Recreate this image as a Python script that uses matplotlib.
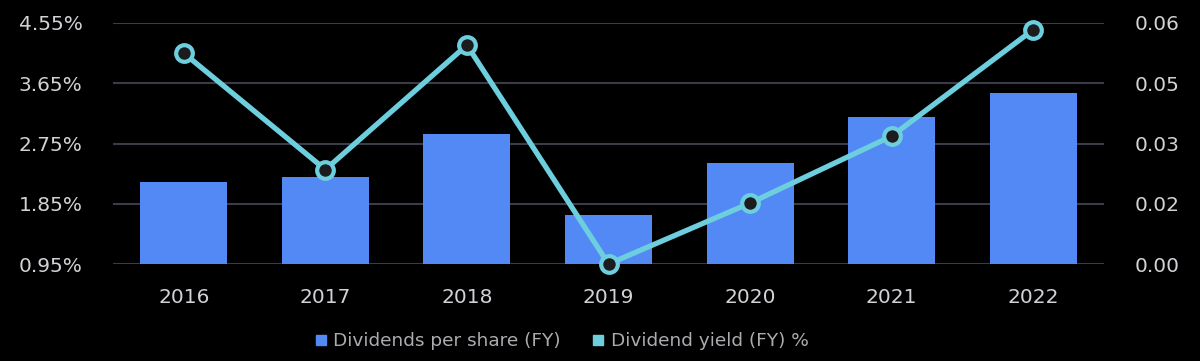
import matplotlib
matplotlib.use('Agg')
import matplotlib.pyplot as plt
from matplotlib.lines import Line2D

plt.rcParams['font.family'] = ['DejaVu Sans']

# data
years = ['2016', '2017', '2018', '2019', '2020', '2021', '2022']
dps = [0.0204, 0.0217, 0.0324, 0.0122, 0.0251, 0.0366, 0.0426]
yield_pct = [4.10, 2.36, 4.22, 0.95, 1.86, 2.86, 4.45]

left_ticks = [0.95, 1.85, 2.75, 3.65, 4.55]
right_ticks = [0.0, 0.015, 0.03, 0.045, 0.06]
right_labels = ['0.00', '0.02', '0.03', '0.05', '0.06']

bar_color = '#5289f5'
line_color = '#6dcfde'
text_color = '#d2d2d6'
grid_color = '#3b3b4a'

fig = plt.figure(figsize=(12, 3.61), dpi=100, facecolor='black')
ax = fig.add_axes([113 / 1200, 1 - 264 / 361, (1104 - 113) / 1200, (264 - 23) / 361])
ax2 = ax.twinx()

x = range(len(years))

# bars on the right-hand scale
ax2.bar(x, dps, width=0.615, color=bar_color, zorder=2)
ax2.set_ylim(0, 0.06)
ax2.set_yticks(right_ticks)
ax2.set_yticklabels(right_labels)
ax2.grid(axis='y', color=grid_color, linewidth=1.5, zorder=0)
ax2.set_axisbelow(True)
ax2.set_facecolor('black')

# yield line on the left-hand scale, drawn on top
ax.set_zorder(ax2.get_zorder() + 1)
ax.patch.set_visible(False)
ax.plot(x, yield_pct, color=line_color, linewidth=3.8, marker='o', markersize=12,
        markerfacecolor='#1c1c1e', markeredgecolor=line_color, markeredgewidth=3,
        solid_capstyle='round', zorder=3, clip_on=False)
ax.set_ylim(0.95, 4.55)
ax.set_yticks(left_ticks)
ax.set_yticklabels(['%.2f%%' % t for t in left_ticks])
ax.set_xlim(-0.5, len(years) - 0.5)
ax.set_xticks(list(x))
ax.set_xticklabels(years)

for a in (ax, ax2):
    for s in a.spines.values():
        s.set_visible(False)
    a.tick_params(length=0, colors=text_color, labelsize=14.5)
ax.tick_params(axis='y', pad=22)
ax2.tick_params(axis='y', pad=22)
ax.tick_params(axis='x', pad=17)

handles = [
    Line2D([], [], linestyle='none', marker='s', markersize=7.5, color=bar_color),
    Line2D([], [], linestyle='none', marker='s', markersize=7.5, color=line_color),
]
leg = fig.legend(handles, ['Dividends per share (FY)', 'Dividend yield (FY) %'],
                 loc='center', bbox_to_anchor=(561 / 1200, 1 - 341 / 361), ncol=2,
                 frameon=False, fontsize=13.3, handletextpad=0.3, columnspacing=1.6,
                 handlelength=0.8)
for t in leg.get_texts():
    t.set_color('#ababb0')

fig.savefig('out.png', dpi=100, facecolor='black')
